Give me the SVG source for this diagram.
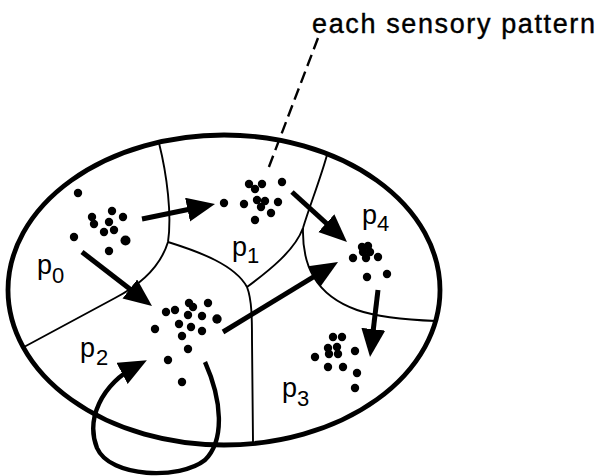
<svg xmlns="http://www.w3.org/2000/svg" width="597" height="476" viewBox="0 0 597 476">
<style>
.outer{fill:none;stroke:#000;stroke-width:4.8}
.bound{fill:none;stroke:#000;stroke-width:1.9}
.arrow{fill:none;stroke:#000;stroke-width:5;marker-end:url(#ah)}
.loop{fill:none;stroke:#000;stroke-width:4.4;marker-end:url(#ah)}
.dash{fill:none;stroke:#000;stroke-width:2.4;stroke-dasharray:12 6}
.dot{fill:#000}
.lbl{font-family:"Liberation Sans",Arial,sans-serif;font-size:27px;fill:#000}
.sub{font-family:"Liberation Sans",Arial,sans-serif;font-size:22px;fill:#000}
.cap{font-family:"Liberation Sans",Arial,sans-serif;font-size:27px;fill:#000;stroke:#000;stroke-width:0.4}
</style>
<defs>
<marker id="ah" markerUnits="userSpaceOnUse" markerWidth="30" markerHeight="26" refX="18" refY="12" orient="auto">
<path d="M0,0 L28,12 L0,24 z" fill="#000"/>
</marker>
<circle id="d" r="4.2" class="dot"/>
</defs>
<rect width="597" height="476" fill="#fff"/>

<g id="space">
<ellipse class="outer" cx="224" cy="290" rx="216" ry="155"/>
<path class="bound" d="M159,143 C167,175 172,215 168,242"/>
<path class="bound" d="M168,242 C160,268 140,285 115,298 L24,347"/>
<path class="bound" d="M168,242 C200,252 235,265 247,287 C252,300 252,320 252,340 L253,442"/>
<path class="bound" d="M247,287 C270,270 295,250 303,228"/>
<path class="bound" d="M303,228 C310,205 320,180 327,155"/>
<path class="bound" d="M303,228 C302,265 315,295 357,310 C380,318 410,320 436,321"/>
</g>

<g id="p0">
<use href="#d" x="78" y="193"/><use href="#d" x="112" y="211"/><use href="#d" x="123" y="217"/>
<use href="#d" x="92" y="217"/><use href="#d" x="94" y="224"/><use href="#d" x="109" y="222"/>
<use href="#d" x="114" y="230"/><use href="#d" x="104" y="232"/><use href="#d" x="74" y="237"/>
<circle cx="125.5" cy="240.5" r="5" class="dot"/><use href="#d" x="109" y="251"/>
<text class="lbl" x="37" y="274">p</text><text class="sub" x="52" y="283">0</text>
</g>

<g id="p1">
<use href="#d" x="249" y="184"/><use href="#d" x="262" y="184"/><use href="#d" x="255" y="189"/>
<use href="#d" x="282" y="182"/><use href="#d" x="224" y="203"/><use href="#d" x="244" y="204"/>
<use href="#d" x="257" y="200"/><use href="#d" x="265" y="201"/><use href="#d" x="261" y="207"/>
<use href="#d" x="278" y="202"/><use href="#d" x="271" y="213"/><use href="#d" x="255" y="220"/>
<text class="lbl" x="232" y="256">p</text><text class="sub" x="247" y="263">1</text>
</g>

<g id="p2">
<use href="#d" x="189" y="303"/><use href="#d" x="193" y="307"/><use href="#d" x="208" y="303"/>
<use href="#d" x="166" y="312"/><use href="#d" x="175" y="310"/><use href="#d" x="188" y="315"/>
<use href="#d" x="202" y="316"/><circle cx="217" cy="319" r="4.7" class="dot"/><use href="#d" x="179" y="324"/>
<use href="#d" x="191" y="327"/><use href="#d" x="202" y="331"/><use href="#d" x="155" y="329"/>
<use href="#d" x="182" y="336"/><use href="#d" x="188" y="349"/><use href="#d" x="168" y="360"/>
<use href="#d" x="182" y="382"/>
<text class="lbl" x="80" y="357">p</text><text class="sub" x="96" y="365">2</text>
</g>

<g id="p3">
<use href="#d" x="333" y="337"/><use href="#d" x="342" y="337"/><use href="#d" x="328" y="348"/>
<use href="#d" x="337" y="347"/><use href="#d" x="315" y="357"/><use href="#d" x="329" y="354"/>
<use href="#d" x="338" y="354"/><use href="#d" x="355" y="351"/><use href="#d" x="328" y="367"/>
<use href="#d" x="343" y="367"/><use href="#d" x="357" y="373"/><use href="#d" x="355" y="388"/>
<text class="lbl" x="282" y="397">p</text><text class="sub" x="297" y="406">3</text>
</g>

<g id="p4">
<use href="#d" x="362" y="247"/><use href="#d" x="368" y="246"/><use href="#d" x="363" y="252"/>
<use href="#d" x="370" y="252"/><use href="#d" x="353" y="258"/><use href="#d" x="366" y="258"/>
<use href="#d" x="378" y="257"/><use href="#d" x="367" y="277"/><use href="#d" x="387" y="274"/>
<text class="lbl" x="362" y="224">p</text><text class="sub" x="377" y="231">4</text>
</g>

<g id="caption">
<text class="cap" x="312" y="33" textLength="283" lengthAdjust="spacing">each sensory pattern</text>
</g>

<g id="connectors">
<line class="dash" x1="318" y1="38" x2="267" y2="172"/>
<line class="arrow" x1="142" y1="219" x2="205.2" y2="206"/>
<line class="arrow" x1="82" y1="252" x2="144.1" y2="299.9"/>
<line class="arrow" x1="292" y1="192" x2="339.6" y2="235.3"/>
<line class="arrow" x1="223" y1="332" x2="329.5" y2="267.2"/>
<line class="arrow" x1="378" y1="290" x2="371.2" y2="347.1"/>
<path class="loop" d="M205,362 C222,400 225,440 205,460 C180,480 110,478 97,448 C86,420 100,385 138,365"/>
</g>
</svg>
